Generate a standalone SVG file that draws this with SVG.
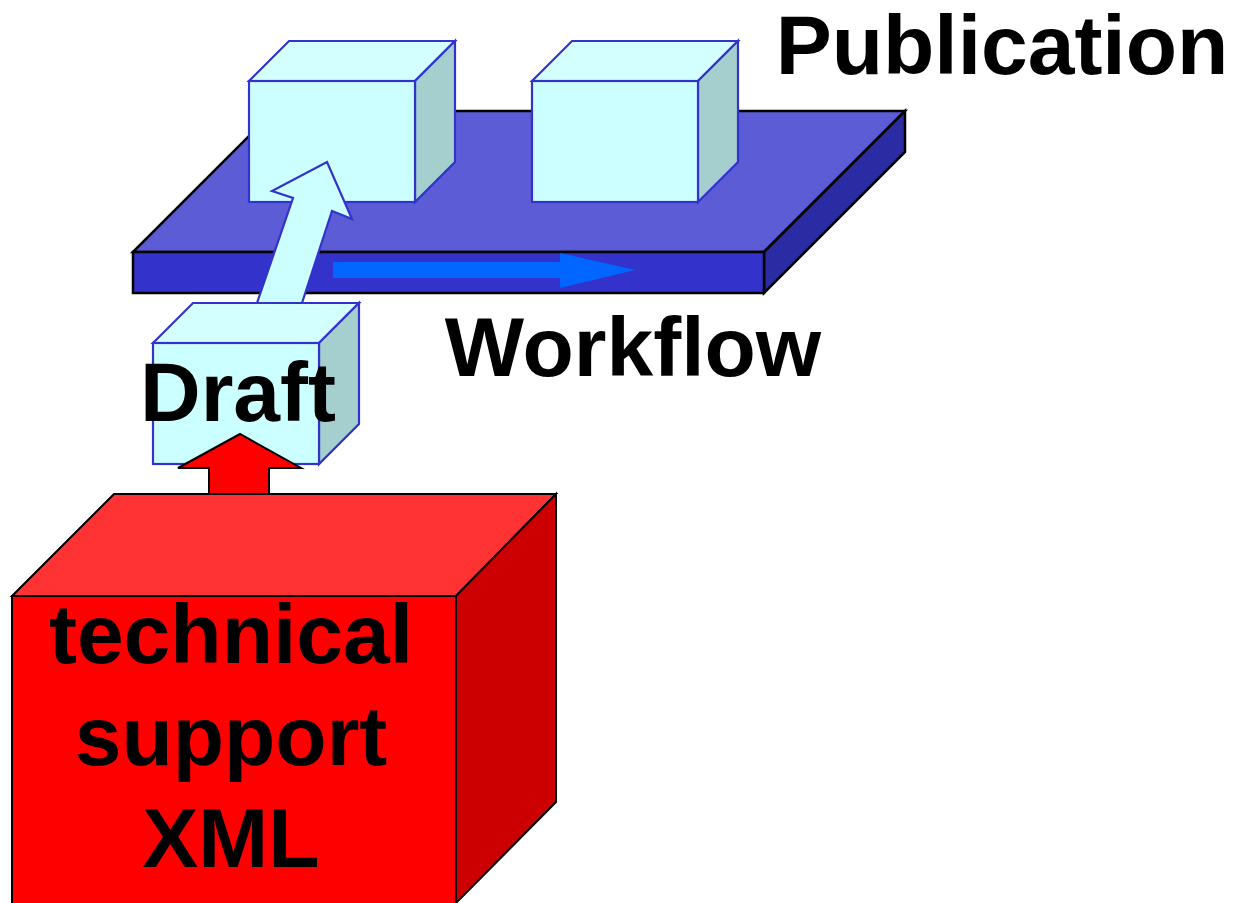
<svg xmlns="http://www.w3.org/2000/svg" width="1236" height="903" viewBox="0 0 1236 903">
<style>
.lbl{font-family:"Liberation Sans",Arial,sans-serif;font-weight:bold;font-size:84px;fill:#000}
.cf{fill:#CCFFFF;stroke:#3333CC;stroke-width:2.2;stroke-linejoin:miter}
.ct{fill:#D4FFFF;stroke:#3333CC;stroke-width:2.2}
.cs{fill:#A5CFCF;stroke:#3333CC;stroke-width:2.2}
.pk{stroke:#000;stroke-width:2.5;stroke-linejoin:miter}
.rk{stroke:#000;stroke-width:2}
</style>
<rect width="1236" height="903" fill="#fff"/>
<g id="platform">
<polygon class="pk" points="133,252 274,111 905,111 764,252" fill="#5C5CD6"/>
<polygon class="pk" points="764,252 905,111 905,152 764,293" fill="#2B2BA3"/>
<rect class="pk" x="133" y="252" width="631" height="41" fill="#3333CC"/>
</g>
<g id="publication-box-1">
<polygon class="ct" points="249,81 289,41 455,41 415,81"/>
<polygon class="cs" points="415,81 455,41 455,162 415,202"/>
<rect class="cf" x="249" y="81" width="166" height="121"/>
</g>
<g id="publication-box-2">
<polygon class="ct" points="532,81 572,41 738,41 698,81"/>
<polygon class="cs" points="698,81 738,41 738,162 698,202"/>
<rect class="cf" x="532" y="81" width="166" height="121"/>
</g>
<g id="draft">
<polygon class="ct" points="153,343 193,303 359,303 319,343"/>
<polygon class="cs" points="319,343 359,303 359,424 319,464"/>
<rect class="cf" x="153" y="343" width="166" height="121"/>
<text class="lbl" x="238" y="421" text-anchor="middle">Draft</text>
</g>
<g id="xml-support">
<polygon class="rk" points="12,596 114,494 556,494 456,596" fill="#FF3333"/>
<polygon class="rk" points="456,596 556,494 556,802 456,903" fill="#CC0000"/>
<rect class="rk" x="12" y="596" width="444" height="310" fill="#FF0000"/>
<text class="lbl" x="231" y="663" text-anchor="middle">technical</text>
<text class="lbl" x="231" y="765" text-anchor="middle">support</text>
<text class="lbl" x="231" y="867" text-anchor="middle">XML</text>
</g>
<g id="connectors">
<polygon id="workflow-arrow" points="333,262 560,262 560,253 635,270 560,288 560,278 333,278" fill="#0066FF"/>
<polygon id="draft-to-publication" class="cf" points="257,303 293,198 272,191 327,162 352,219 332,211 302,303"/>
<polygon id="xml-to-draft" class="rk" points="209,494 209,468 178,468 240,434 301,468 269,468 269,494" fill="#FF0000"/>
</g>
<g id="labels">
<text class="lbl" x="1002" y="74" text-anchor="middle">Publication</text>
<text class="lbl" x="633" y="376" text-anchor="middle">Workflow</text>
</g>
</svg>
